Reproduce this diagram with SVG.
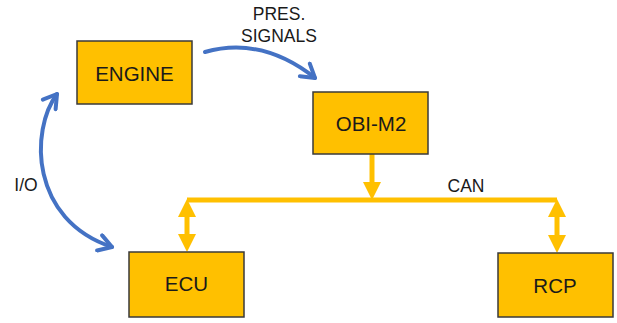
<svg xmlns="http://www.w3.org/2000/svg" width="617" height="323" viewBox="0 0 617 323">
  <style>
    .box { fill: #FFC000; stroke: #3a3a3a; stroke-width: 1.5; }
    .name { font-family: "Liberation Sans", Arial, sans-serif; font-size: 20.5px; fill: #1a1a1a; text-anchor: middle; }
    .lbl { font-family: "Liberation Sans", Arial, sans-serif; font-size: 17.5px; fill: #1a1a1a; text-anchor: middle; }
    .sig { fill: none; stroke: #4472C4; stroke-width: 4; stroke-linecap: round; }
    .bus { fill: none; stroke: #FFC000; stroke-width: 5; }
    .head { fill: #FFC000; }
  </style>
  <defs>
    <marker id="chev" markerUnits="userSpaceOnUse" markerWidth="20" markerHeight="20" viewBox="-16 -10 20 20" refX="0" refY="0" orient="auto-start-reverse">
      <path d="M-13,-8 L0,0 L-13,8" fill="none" stroke="#4472C4" stroke-width="4" stroke-linecap="round" stroke-linejoin="round"/>
    </marker>
  </defs>

  <!-- connectors -->
  <g id="connectors">
    <path class="sig" d="M205,52 Q262,36 315,78" marker-end="url(#chev)"/>
    <path class="sig" d="M57,94 C30,130 30,220 112,247" marker-start="url(#chev)" marker-end="url(#chev)"/>

    <!-- CAN bus -->
    <path class="bus" d="M187,200 H557"/>
    <!-- OBI-M2 down to bus -->
    <path class="bus" d="M372,154 V184"/>
    <polygon class="head" points="363,182 381,182 372,200"/>
    <!-- bus to ECU -->
    <path class="bus" d="M187,214 V238"/>
    <polygon class="head" points="187,199 196,217 178,217"/>
    <polygon class="head" points="178,234 196,234 187,252"/>
    <!-- bus to RCP -->
    <path class="bus" d="M557,214 V238"/>
    <polygon class="head" points="557,199 566,217 548,217"/>
    <polygon class="head" points="548,235 566,235 557,253"/>

    <text class="lbl" x="279" y="20">PRES.</text>
    <text class="lbl" x="279" y="42">SIGNALS</text>
    <text class="lbl" x="466" y="192">CAN</text>
    <text class="lbl" x="26" y="191">I/O</text>
  </g>

  <g id="engine">
    <rect class="box" x="77" y="41" width="115" height="63"/>
    <text class="name" x="134.5" y="81">ENGINE</text>
  </g>
  <g id="obi-m2">
    <rect class="box" x="313" y="92" width="115" height="62"/>
    <text class="name" x="371" y="131">OBI-M2</text>
  </g>
  <g id="ecu">
    <rect class="box" x="129" y="252" width="115" height="65"/>
    <text class="name" x="186.5" y="291">ECU</text>
  </g>
  <g id="rcp">
    <rect class="box" x="498" y="253" width="115" height="64"/>
    <text class="name" x="555" y="293">RCP</text>
  </g>
</svg>
